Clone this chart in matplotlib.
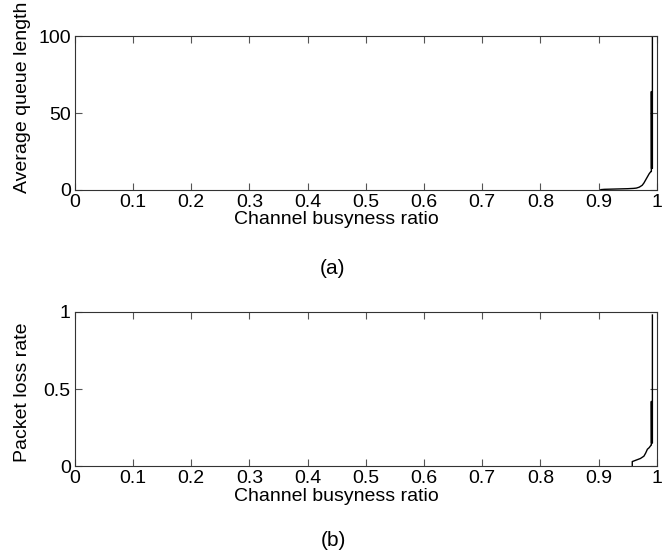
import matplotlib
matplotlib.use("Agg")
import matplotlib.pyplot as plt

plt.rcParams["font.family"] = ["Liberation Sans", "DejaVu Sans"]

# (a) average queue length vs channel busyness ratio
busy_a = [0.904, 0.91, 0.92, 0.93, 0.94, 0.95, 0.96, 0.965, 0.970, 0.975,
          0.978, 0.981, 0.984, 0.987, 0.989, 0.9905, 0.9908, 0.9908, 0.991,
          0.9926, 0.9926]
queue_a = [0.2, 0.4, 0.5, 0.6, 0.7, 0.8, 1.0, 1.2, 1.8, 3.0,
           4.5, 6.5, 8.5, 10.5, 11.5, 12.0, 12.0, 64.0, 14.0,
           14.0, 100.0]

# (b) packet loss rate vs channel busyness ratio
busy_b = [0.958, 0.958, 0.965, 0.972, 0.978, 0.981, 0.984, 0.987, 0.989,
          0.9905, 0.9908, 0.9908, 0.991, 0.9926, 0.9926]
loss_b = [0.0, 0.03, 0.04, 0.05, 0.065, 0.085, 0.11, 0.12, 0.13,
          0.137, 0.137, 0.42, 0.15, 0.15, 0.98]

xticks = [0, 0.1, 0.2, 0.3, 0.4, 0.5, 0.6, 0.7, 0.8, 0.9, 1]
xticklabels = ["0", "0.1", "0.2", "0.3", "0.4", "0.5", "0.6", "0.7", "0.8", "0.9", "1"]

fig = plt.figure(figsize=(6.62, 5.57), dpi=100)
ax1 = fig.add_axes([0.113, 0.659, 0.879, 0.276])
ax2 = fig.add_axes([0.113, 0.163, 0.879, 0.277])


def style(ax):
    ax.set_xlim(0, 1)
    ax.set_xticks(xticks)
    ax.set_xticklabels(xticklabels)
    ax.tick_params(direction="in", top=True, right=True, labelsize=14,
                   length=5, width=0.8, color="#555555", pad=3)
    for s in ax.spines.values():
        s.set_color("#333333")
        s.set_linewidth(0.8)
    ax.set_xlabel("Channel busyness ratio", fontsize=14)
    ax.xaxis.set_label_coords(0.45, -0.14)


ax1.plot(busy_a, queue_a, color="black", linewidth=1.0)
ax1.set_ylim(0, 100)
ax1.set_yticks([0, 50, 100])
ax1.set_ylabel("Average queue length", fontsize=14)
style(ax1)
ax1.yaxis.set_label_coords(-0.076, 0.6)

ax2.plot(busy_b, loss_b, color="black", linewidth=1.0)
ax2.set_ylim(0, 1)
ax2.set_yticks([0, 0.5, 1])
ax2.set_yticklabels(["0", "0.5", "1"])
ax2.set_ylabel("Packet loss rate", fontsize=14)
style(ax2)
ax2.yaxis.set_label_coords(-0.076, 0.48)

fig.text(0.503, 0.518, "(a)", ha="center", va="center", fontsize=15)
fig.text(0.503, 0.030, "(b)", ha="center", va="center", fontsize=15)

fig.savefig("out.png", dpi=100)
